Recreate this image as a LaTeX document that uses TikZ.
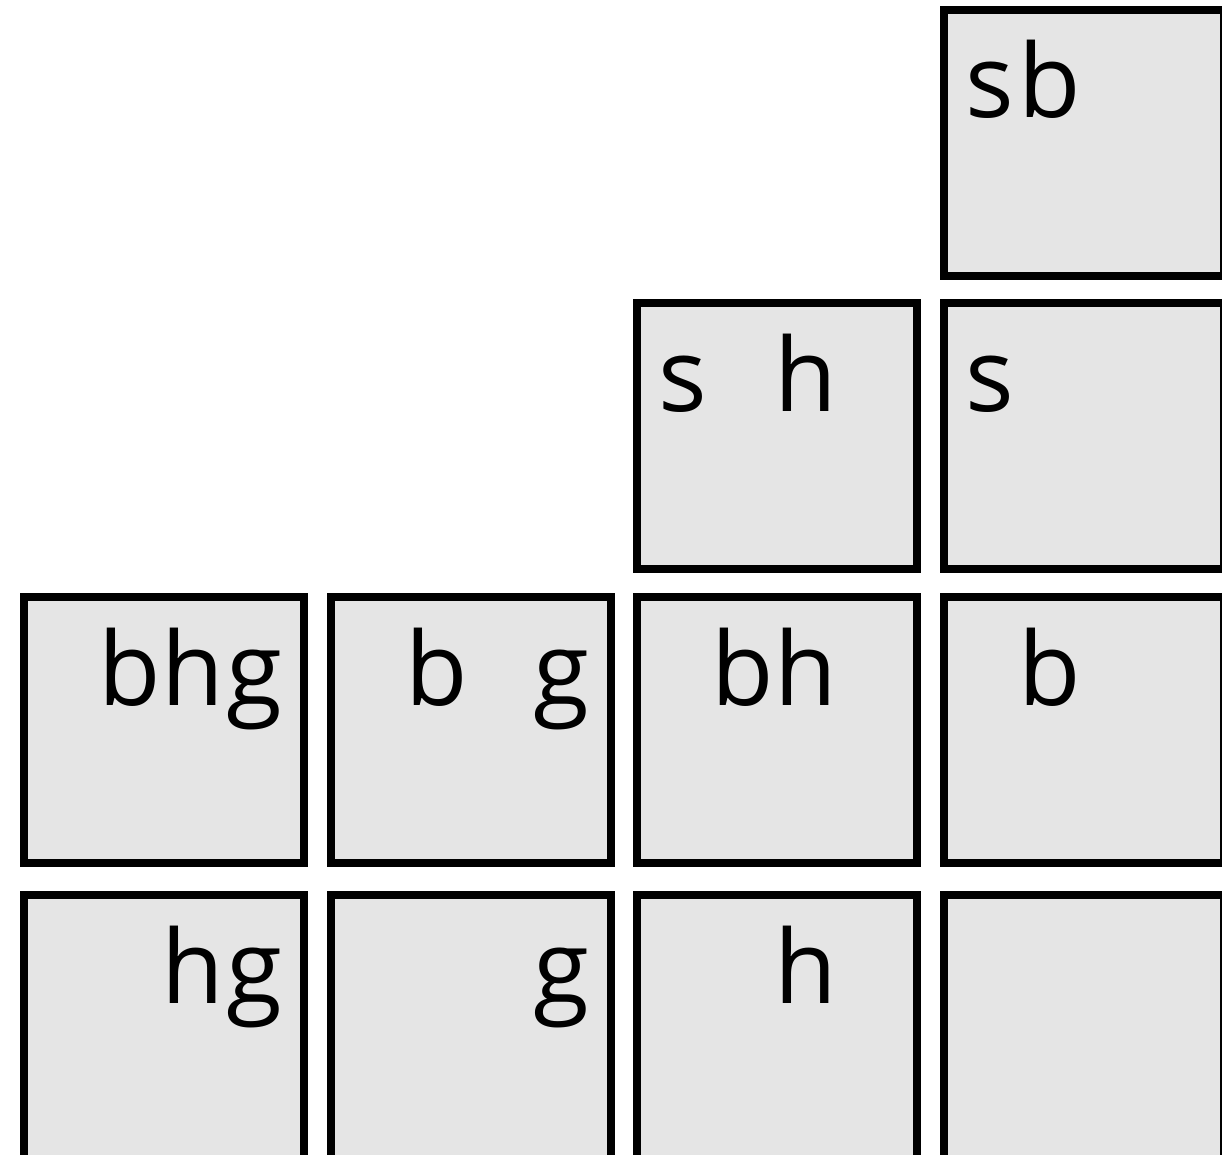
\documentclass[tikz,border=0pt]{standalone}
\usepackage{fontspec}
\setmainfont{Open Sans}
\tikzset{
  cell/.style={draw, fill=black!10, line width=0.08cm, minimum width=2.80cm,
    minimum height=2.66cm, inner sep=0pt, anchor=north west},
  letter/.style={anchor=base, inner sep=0pt, yshift=-1.12cm,
    font=\fontsize{29}{35}\selectfont},
  sslot/.style={letter, xshift=0.50cm},
  bslot/.style={letter, xshift=1.10cm},
  hslot/.style={letter, xshift=1.73cm},
  gslot/.style={letter, xshift=2.34cm},
}
\begin{document}
\begin{tikzpicture}
	\useasboundingbox (0,0) rectangle (12.22,11.54);
	\clip (0,0) rectangle (12.22,11.54);

	% 1. Top row (only the right column)
	\node[cell] (sb) at (9.40,11.48) {};

	% 2. Second row
	\node[cell] (sh) at (6.33,8.55) {};
	\node[cell] (s) at (9.40,8.55) {};

	% 3. Third row
	\node[cell] (bhg) at (0.20,5.61) {};
	\node[cell] (bg) at (3.27,5.61) {};
	\node[cell] (bh) at (6.33,5.61) {};
	\node[cell] (b) at (9.40,5.61) {};

	% 4. Bottom row (cut by the lower edge)
	\node[cell] (hg) at (0.20,2.63) {};
	\node[cell] (g) at (3.27,2.63) {};
	\node[cell] (h) at (6.33,2.63) {};
	\node[cell] (empty) at (9.40,2.63) {};

	% 5. Letters, each in its own slot
	\node[sslot] (sb-s) at (sb.north west) {s};
	\node[bslot] (sb-b) at (sb.north west) {b};

	\node[sslot] (sh-s) at (sh.north west) {s};
	\node[hslot] (sh-h) at (sh.north west) {h};
	\node[sslot] (s-s) at (s.north west) {s};

	\node[bslot] (bhg-b) at (bhg.north west) {b};
	\node[hslot] (bhg-h) at (bhg.north west) {h};
	\node[gslot] (bhg-g) at (bhg.north west) {g};
	\node[bslot] (bg-b) at (bg.north west) {b};
	\node[gslot] (bg-g) at (bg.north west) {g};
	\node[bslot] (bh-b) at (bh.north west) {b};
	\node[hslot] (bh-h) at (bh.north west) {h};
	\node[bslot] (b-b) at (b.north west) {b};

	\node[hslot] (hg-h) at (hg.north west) {h};
	\node[gslot] (hg-g) at (hg.north west) {g};
	\node[gslot] (g-g) at (g.north west) {g};
	\node[hslot] (h-h) at (h.north west) {h};
\end{tikzpicture}
\end{document}
